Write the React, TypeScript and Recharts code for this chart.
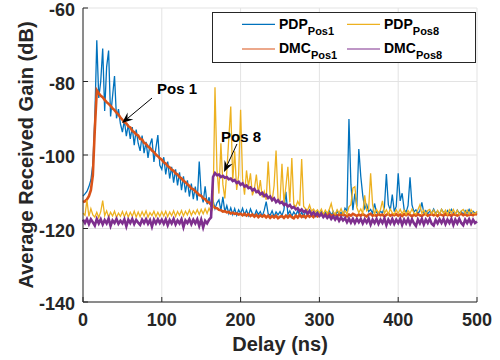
import {
  CartesianGrid,
  Line,
  LineChart,
  ReferenceDot,
  ReferenceLine,
  XAxis,
  YAxis,
} from 'recharts';

// sampling step of the delay axis (ns); the series below are read at every step
const STEP_NS = 2.5;

const pdpPos1 = [
  -111.2, -110.6, -109.9, -108.6, -106.8, -102.5, -90, -68.8, -84.5, -80, -71, -88, -76, -71.6, -89.5, -84, -78.5, -90, -87.5, -91.5,
  -93.8, -90.6, -94.9, -91.7, -95.6, -92.4, -97.3, -93.1, -96.8, -98.9, -94.7, -99.5, -96.4, -100.8, -97.2, -95.5, -101.9, -98.1, -94.6, -102.8,
  -103.9, -100.6, -105.3, -101.8, -106.4, -103.2, -107.5, -103.9, -108.3, -104.7, -109.6, -105.8, -110.2, -106.9, -111.3, -107.8, -112, -108.6, -112.4, -101.8,
  -110.6, -112.9, -108.5, -113.4, -111.5, -114.1, -112.3, -114.6, -113, -112.2, -115.1, -111.4, -115.5, -113.8, -115.9, -114.4, -116.2, -114.6, -116.4, -114.9,
  -115.9, -114.5, -116.3, -115, -116.5, -114.7, -116, -116.6, -115.1, -116.2, -115.4, -116.7, -115, -112.7, -116, -116.4, -115.2, -116.8, -115.5, -116.3,
  -115.4, -116.5, -114.9, -110, -116.2, -115.2, -116.7, -115.5, -116.4, -115.1, -116.6, -115.6, -116.8, -115.3, -116.3, -115, -116.5, -115.5, -116.7, -115.2,
  -116.3, -115.3, -116.6, -115.5, -116.2, -115.1, -116.4, -115.4, -116.7, -115.2, -116.2, -115.6, -116.5, -114.5, -115.2, -90.2, -108, -115, -110.5, -114,
  -98.4, -105.8, -111, -114.6, -113.5, -115.4, -114.8, -115.9, -113.2, -115.6, -116.1, -115.3, -115.8, -114.2, -105.2, -113.5, -115, -110.8, -115.4, -114,
  -105, -112.5, -110.4, -114.8, -115.6, -113.8, -106.1, -113.6, -115.5, -114.9, -115.9, -115.2, -112.9, -115.7, -115.1, -116, -115.3, -115.8, -114.7, -115.9,
  -115.2, -116.1, -114.8, -115.6, -116.3, -115.1, -115.9, -114.8, -115.7, -116.2, -115, -115.9, -115.3, -116.3, -115.1, -115.8, -114.8, -116, -115.3, -115.9,
  -115.5,
];

const dmcPos1 = [
  -112.8, -112.6, -112.1, -111.2, -109.6, -105.5, -93, -82.4, -83.2, -83.9, -84.3, -85, -85.6, -86.1, -86.6, -87.3, -87.8, -88.5, -89, -89.8,
  -90.4, -91.1, -91.4, -92.2, -92.5, -93.4, -93.8, -94.4, -94.7, -95.6, -95.8, -96.7, -97, -97.7, -98.1, -98.8, -99.2, -99.9, -100.3, -100.9,
  -101.3, -102, -102.3, -103, -103.4, -104, -104.3, -105, -105.3, -106, -106.4, -107, -107.4, -108, -108.4, -109.1, -109.3, -109.9, -110.3, -110.9,
  -111.1, -111.8, -112, -112.7, -112.9, -113.5, -113.8, -114.4, -114.5, -114.9, -115, -115.4, -115.3, -115.6, -115.5, -115.9, -115.7, -116, -115.9, -116.2,
  -116, -116.4, -116, -116.5, -116.1, -116.6, -116.2, -116.8, -116.3, -116.9, -116.4, -116.8, -116.4, -117, -116.5, -117.1, -116.6, -117, -116.5, -117.2,
  -116.8, -116.6, -117.1, -116.5, -117, -116.4, -116.9, -117.2, -116.5, -117, -116.3, -116.9, -116.5, -117, -116.3, -116.8, -116.4, -116.9, -116.2, -116.7,
  -116.4, -116.1, -116.6, -116.2, -116.5, -116, -116.7, -116.3, -116.1, -116.6, -116.2, -116.5, -116.1, -116.4, -116.7, -116.2, -116.5, -116, -116.3, -116.6,
  -116.2, -116.5, -116.1, -116.4, -116.7, -116.2, -116, -116.5, -116.3, -116.6, -116.1, -116.4, -116.2, -116.7, -116.3, -116, -116.5, -116.2, -116.4, -116.1,
  -116.5, -116.2, -116.6, -116.1, -116.4, -116, -116.3, -116.7, -116.2, -116.5, -116.1, -116.4, -116.6, -116.2, -116, -116.5, -116.3, -116.1, -116.4, -116.2,
  -116.6, -116.1, -116.3, -116.5, -116, -116.4, -116.2, -116.6, -116.1, -116.3, -116.5, -116.2, -116, -116.4, -116.1, -116.5, -116.3, -116.2, -116.4, -116,
  -116.3,
];

const pdpPos8 = [
  -115.8, -116.4, -112.3, -116.7, -114.6, -116.3, -116.9, -115.6, -117, -115.4, -112.4, -116.5, -115.2, -116.9, -115.6, -116.6, -115.3, -117, -115.8, -116.7,
  -115.4, -116.8, -115.5, -116.9, -115.6, -116.7, -115.3, -116.9, -115.5, -116.8, -115.4, -116.6, -115.2, -116.9, -115.7, -116.5, -115.3, -116.8, -115.6, -116.7,
  -115.4, -116.6, -115.3, -116.8, -115.5, -116.5, -115.2, -116.7, -115.4, -116.4, -115.1, -116.6, -115.3, -116.3, -115, -116.4, -115.2, -116.1, -114.9, -116.2,
  -114.8, -116, -114.6, -115.9, -114.5, -115.7, -114.2, -81.6, -104, -110.5, -96.8, -108, -111.8, -104.5, -95.5, -86.8, -107, -99, -109.5, -105.5,
  -87.7, -106.5, -110.8, -104.2, -108.6, -105, -111, -109.2, -105.3, -110.6, -106.8, -111.5, -109.9, -112.2, -101.8, -111, -112.6, -108.3, -98.8, -111.9,
  -112.8, -102.4, -113, -108.5, -103.2, -112.9, -100.8, -113.4, -114.1, -112.6, -113.8, -101.1, -114, -114.6, -115, -113.6, -115.3, -114.7, -115.5, -114.9,
  -115.8, -114.7, -116.1, -115, -115.9, -114.8, -113.2, -115.6, -116.1, -114.9, -115.8, -114.6, -116, -115.1, -116.1, -114.1, -113.5, -109, -108.6, -114.3,
  -115.7, -114.7, -115.9, -111, -115.2, -114.6, -105, -113.5, -116, -114.8, -115.8, -114.9, -112.5, -115.9, -114.9, -116.1, -114.7, -115.7, -116.1, -114.9,
  -115.9, -114.8, -116, -115, -116.2, -115.1, -115.9, -114.7, -115.8, -116.1, -114.9, -113.6, -115.9, -115, -116.2, -115.1, -114.8, -116, -115, -116.2,
  -115.1, -116.1, -114.8, -115.9, -115, -116.2, -114.9, -115.8, -114.8, -116, -115, -116.2, -115.2, -114.8, -115.9, -115, -116.1, -114.9, -115.8, -116,
  -115.3,
];

const dmcPos8 = [
  -117.6, -118.5, -117.4, -118.8, -117.5, -118.3, -119.2, -117.4, -118.6, -117.5, -118.9, -117.7, -118.6, -117.3, -119.3, -117.8, -118.5, -117.4, -118.7, -117.9,
  -118.6, -117.5, -119.4, -117.6, -118.5, -117.4, -118.8, -117.7, -118.4, -119, -117.6, -118.5, -117.5, -118.7, -117.7, -119.5, -117.6, -118.6, -117.5, -118.5,
  -117.6, -118.7, -117.5, -119.1, -117.7, -118.6, -117.4, -118.9, -117.8, -118.6, -117.5, -119.6, -117.8, -118.5, -117.5, -118.8, -117.6, -118.6, -117.5, -119.3,
  -117.6, -119.7, -117.9, -118.6, -117.6, -117, -106, -104.9, -105.5, -105.3, -106, -105.7, -106.2, -106, -106.6, -106.4, -107.1, -106.8, -107.6, -107.3,
  -108.1, -107.7, -108.6, -108.3, -109, -108.8, -109.6, -109.2, -110.1, -109.8, -110.7, -110.3, -111.2, -110.8, -111.7, -111.3, -112.3, -111.8, -112.8, -112.3,
  -113.1, -112.8, -113.6, -113.3, -114, -113.6, -114.4, -114.1, -114.8, -114.5, -115.3, -114.8, -115.5, -115.1, -115.9, -115.3, -116.2, -115.6, -116.4, -115.9,
  -116.6, -116, -116.9, -116.3, -117.1, -116.5, -117.4, -116.7, -117.6, -116.8, -117.9, -117, -117.8, -117.2, -118.3, -117.3, -118.4, -117.4, -118.5, -117.4,
  -118.3, -117.4, -118.6, -117.5, -118.4, -117.3, -118.9, -117.6, -118.5, -117.4, -118.7, -117.6, -118.5, -117.3, -119.1, -117.6, -118.6, -117.4, -118.7, -117.6,
  -118.5, -117.4, -119, -117.6, -118.6, -117.4, -118.8, -117.5, -118.6, -119.3, -117.6, -118.6, -117.4, -118.9, -117.6, -118.5, -117.4, -118.7, -119.2, -117.7,
  -118.6, -117.5, -118.5, -117.4, -118.8, -117.6, -118.5, -117.4, -119, -117.6, -118.6, -117.4, -118.5, -119.1, -117.6, -118.5, -117.5, -118.7, -117.6, -118.5,
  -118.1,
];

const X_TICKS = [0, 100, 200, 300, 400, 500];
const Y_TICKS = [-140, -120, -100, -80, -60];

const SERIES = [
  { key: 'pdp1', name: 'PDP', sub: 'Pos1', color: '#0072BD', width: 1.3 },
  { key: 'dmc1', name: 'DMC', sub: 'Pos1', color: '#D95319', width: 2.6 },
  { key: 'pdp8', name: 'PDP', sub: 'Pos8', color: '#EDB120', width: 1.3 },
  { key: 'dmc8', name: 'DMC', sub: 'Pos8', color: '#7E2F8E', width: 2.6 },
];

// legend is laid out row-major like the MATLAB one: PDP1 PDP8 / DMC1 DMC8
const LEGEND_ORDER = ['pdp1', 'pdp8', 'dmc1', 'dmc8'];

const data = pdpPos1.map((v, i) => ({
  delay: i * STEP_NS,
  pdp1: v,
  dmc1: dmcPos1[i],
  pdp8: pdpPos8[i],
  dmc8: dmcPos8[i],
}));

const FONT = '"Liberation Sans", Arial, Helvetica, sans-serif';
const AXIS = '#262626';
const tickStyle = { fill: AXIS, fontSize: 18, fontWeight: 'bold', fontFamily: FONT };

function Arrow(props: any) {
  const { x1, y1, x2, y2 } = props;
  const a = Math.atan2(y2 - y1, x2 - x1);
  const len = 11;
  const half = 4.5;
  const bx = x2 - len * Math.cos(a);
  const by = y2 - len * Math.sin(a);
  const nx = x2 - len * 0.65 * Math.cos(a);
  const ny = y2 - len * 0.65 * Math.sin(a);
  const px = -Math.sin(a) * half;
  const py = Math.cos(a) * half;
  return (
    <g>
      <line x1={x1} y1={y1} x2={nx} y2={ny} stroke="#000" strokeWidth={1} />
      <polygon
        points={`${x2},${y2} ${bx + px},${by + py} ${nx},${ny} ${bx - px},${by - py}`}
        fill="#000"
      />
    </g>
  );
}

function LegendBox() {
  const cols = [0, 105];
  const rows = [0, 24.7];
  return (
    <svg
      width={264}
      height={51}
      style={{ position: 'absolute', left: 212, top: 12, fontFamily: FONT }}
    >
      <rect x={0.5} y={0.5} width={263} height={50} fill="#fff" stroke={AXIS} strokeWidth={1} />
      {LEGEND_ORDER.map((k, i) => {
        const s = SERIES.find((d) => d.key === k)!;
        const cx = cols[i % 2];
        const cy = rows[Math.floor(i / 2)];
        return (
          <g key={k}>
            <line x1={30 + cx} x2={63 + cx} y1={12.3 + cy} y2={12.3 + cy} stroke={s.color} strokeWidth={1.2} />
            <text x={67 + cx} y={16.5 + cy} fontSize={14} fontWeight="bold" fill="#000">
              {s.name}
              <tspan fontSize={11} dy={6}>{s.sub}</tspan>
            </text>
          </g>
        );
      })}
    </svg>
  );
}

export default function App() {
  return (
    <div style={{ position: 'absolute', left: 0, top: 0, width: 500, height: 360, background: '#fff' }}>
      <LineChart
        width={500}
        height={360}
        data={data}
        margin={{ top: 8, right: 23, bottom: 0, left: 0 }}
        style={{ fontFamily: FONT }}
      >
        <CartesianGrid xAxisId="bottom" yAxisId="left" stroke="#e3e3e3" strokeWidth={1} />
        <XAxis
          xAxisId="bottom"
          dataKey="delay"
          type="number"
          domain={[0, 500]}
          ticks={X_TICKS}
          interval={0}
          height={58}
          tickSize={-5}
          tickMargin={16}
          tick={tickStyle}
          axisLine={{ stroke: AXIS }}
          tickLine={{ stroke: AXIS }}
          label={{
            value: 'Delay (ns)',
            position: 'insideBottom',
            offset: 9,
            fill: AXIS,
            fontSize: 20,
            fontWeight: 'bold',
          }}
        />
        <XAxis
          xAxisId="top"
          orientation="top"
          dataKey="delay"
          type="number"
          domain={[0, 500]}
          ticks={X_TICKS}
          interval={0}
          height={0}
          tickSize={-5}
          tickFormatter={() => ''}
          axisLine={{ stroke: AXIS }}
          tickLine={{ stroke: AXIS }}
        />
        <YAxis
          yAxisId="left"
          type="number"
          domain={[-140, -60]}
          ticks={Y_TICKS}
          interval={0}
          width={83}
          tickSize={-5}
          tickMargin={13}
          tick={{ ...tickStyle, dy: 2 }}
          axisLine={{ stroke: AXIS }}
          tickLine={{ stroke: AXIS }}
          label={{
            value: 'Average Received Gain (dB)',
            angle: -90,
            position: 'insideLeft',
            offset: 26,
            fill: AXIS,
            fontSize: 20,
            fontWeight: 'bold',
            style: { textAnchor: 'middle' },
          }}
        />
        <YAxis
          yAxisId="right"
          orientation="right"
          type="number"
          domain={[-140, -60]}
          ticks={Y_TICKS}
          interval={0}
          width={0}
          tickSize={-5}
          tickFormatter={() => ''}
          axisLine={{ stroke: AXIS }}
          tickLine={{ stroke: AXIS }}
        />
        {SERIES.map((s) => (
          <Line
            key={s.key}
            xAxisId="bottom"
            yAxisId="left"
            type="linear"
            dataKey={s.key}
            stroke={s.color}
            strokeWidth={s.width}
            dot={false}
            activeDot={false}
            isAnimationActive={false}
          />
        ))}
        <ReferenceLine
          xAxisId="bottom"
          yAxisId="left"
          segment={[{ x: 87.6, y: -84.5 }, { x: 49.5, y: -91.3 }]}
          shape={Arrow}
        />
        <ReferenceLine
          xAxisId="bottom"
          yAxisId="left"
          segment={[{ x: 195.4, y: -97 }, { x: 179, y: -104.6 }]}
          shape={Arrow}
        />
        <ReferenceDot
          xAxisId="bottom"
          yAxisId="left"
          x={119.3}
          y={-81.9}
          r={0}
          stroke="none"
          fill="none"
          label={{ value: 'Pos 1', position: 'center', fill: '#000', fontSize: 15, fontWeight: 'bold' }}
        />
        <ReferenceDot
          xAxisId="bottom"
          yAxisId="left"
          x={200.5}
          y={-95}
          r={0}
          stroke="none"
          fill="none"
          label={{ value: 'Pos 8', position: 'center', fill: '#000', fontSize: 15, fontWeight: 'bold' }}
        />
      </LineChart>
      <LegendBox />
    </div>
  );
}
